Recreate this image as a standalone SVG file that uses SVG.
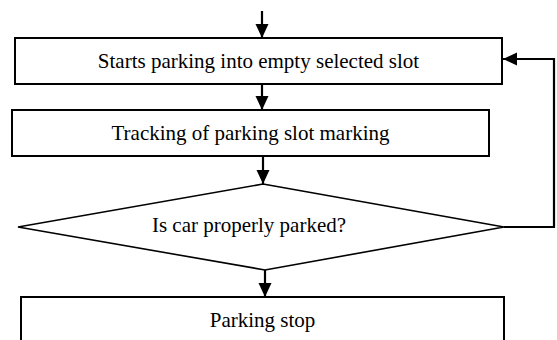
<svg xmlns="http://www.w3.org/2000/svg" width="557" height="340" viewBox="0 0 557 340">
<defs>
<marker id="ah" markerUnits="userSpaceOnUse" markerWidth="15" markerHeight="14" refX="14" refY="7" orient="auto">
<path d="M0,0.5 L14,7 L0,13.5 Z" fill="#000"/>
</marker>
<style>
.box{fill:#fff;stroke:#000;stroke-width:2}
.dia{fill:#fff;stroke:#000;stroke-width:1.6}
.lbl{font-family:"Liberation Serif","Times New Roman",serif;font-size:21px;fill:#000}
.con{fill:none;stroke:#000;stroke-width:2.2;marker-end:url(#ah)}
</style>
</defs>
<rect width="557" height="340" fill="#fff"/>
<g id="start">
<rect class="box" x="15" y="38" width="487" height="46"/>
<text class="lbl" x="258.5" y="68" text-anchor="middle">Starts parking into empty selected slot</text>
</g>
<g id="tracking">
<rect class="box" x="12" y="110" width="477" height="46"/>
<text class="lbl" x="250.5" y="140" text-anchor="middle">Tracking of parking slot marking</text>
</g>
<g id="decision">
<polygon class="dia" points="263,184 504,227 265,270 18,227"/>
<text class="lbl" x="249" y="232" text-anchor="middle">Is car properly parked?</text>
</g>
<g id="stop">
<rect class="box" x="21" y="297" width="483" height="60"/>
<text class="lbl" x="262.5" y="327" text-anchor="middle">Parking stop</text>
</g>
<g id="connectors">
<line class="con" x1="262" y1="11" x2="262" y2="38"/>
<line class="con" x1="262" y1="84" x2="262" y2="110"/>
<line class="con" x1="263" y1="156" x2="263" y2="184"/>
<line class="con" x1="265" y1="270" x2="265" y2="297"/>
<polyline class="con" points="504,227 554,227 554,59 503,59"/>
</g>
</svg>
